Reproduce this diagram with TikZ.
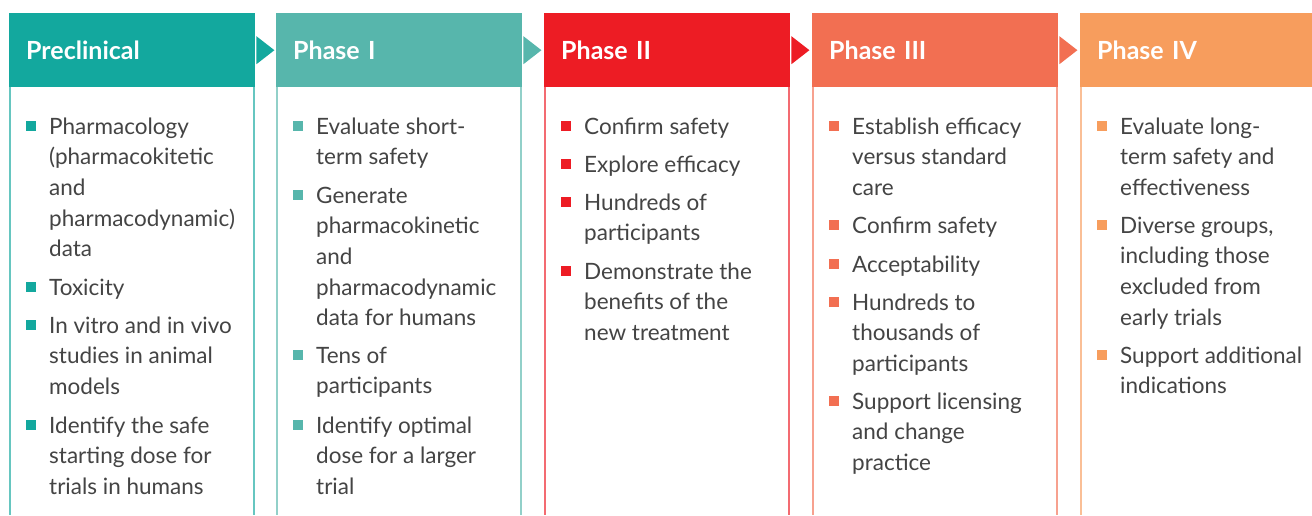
\documentclass[tikz,border=0pt]{standalone}
\usepackage{fontspec}
\setmainfont{Lato}
\usetikzlibrary{calc}
\definecolor{cA}{HTML}{13A89E}
\definecolor{cB}{HTML}{57B6AC}
\definecolor{cC}{HTML}{ED1C24}
\definecolor{cD}{HTML}{F26F52}
\definecolor{cE}{HTML}{F79D5D}
\definecolor{txtgray}{HTML}{444444}
\newcommand\fstrut{\rule{0pt}{22pt}}
\tikzset{
  hdr/.style={anchor=north west, minimum width=246pt, minimum height=74pt,
    text width=212pt, inner xsep=17pt, inner ysep=0pt, align=left,
    text height=18pt, text depth=0pt, text=white,
    font=\fontsize{25}{28}\selectfont\bfseries},
  bul/.style={fill=#1, minimum size=10pt, inner sep=0pt, draw=none},
  itm/.style={anchor=north west, inner sep=0pt, align=left, text=txtgray,
    font=\fontsize{22.5}{30.6}\selectfont},
  side/.style={line width=1.5pt, draw=#1},
}
\newcommand\hdrarrow[2]{\fill[#2] ($(#1.east)+(1,-14)$) -- ($(#1.east)+(19,0)$) -- ($(#1.east)+(1,14)$) -- cycle;}
% column: bullet + item text, args: name, colour, x0, baseline, text
\newcommand\colitem[5]{%
  \node[bul=#2] (#1b) at (#3+22,#4-7) {};
  \node[itm] (#1) at (#3+40,#4-21) {\fstrut#5};
}
\begin{document}
\begin{tikzpicture}[x=1pt,y=-1pt]
\useasboundingbox[fill=white] (0,0) rectangle (1312,515);
% side lines
\foreach \x/\c in {9/cA, 276/cB, 544/cC, 812/cD, 1080/cE}{
  \draw[side=\c!65] (\x+1,87) -- (\x+1,515);
  \draw[side=\c!65] (\x+245,87) -- (\x+245,515);
}
% headers
\node[hdr, fill=cA] (h1) at (9,13) {Preclinical};
\node[hdr, fill=cB] (h2) at (276,13) {Phase I};
\node[hdr, fill=cC] (h3) at (544,13) {Phase II};
\node[hdr, fill=cD] (h4) at (812,13) {Phase III};
\node[hdr, fill=cE, minimum width=250pt, text width=216pt] (h5) at (1080,13) {Phase IV};
\hdrarrow{h1}{cA}
\hdrarrow{h2}{cB}
\hdrarrow{h3}{cC}
\hdrarrow{h4}{cD}
% Preclinical
\colitem{a1}{cA}{9}{133}{Pharmacology\\(pharmacokitetic\\and\\pharmacodynamic)\\data}
\colitem{a2}{cA}{9}{294}{Toxicity}
\colitem{a3}{cA}{9}{332}{In vitro and in vivo\\studies in animal\\models}
\colitem{a4}{cA}{9}{432}{Identify the safe\\starting dose for\\trials in humans}
% Phase I
\colitem{b1}{cB}{276}{133}{Evaluate short-\\term safety}
\colitem{b2}{cB}{276}{202}{Generate\\pharmacokinetic\\and\\pharmacodynamic\\data for humans}
\colitem{b3}{cB}{276}{362}{Tens of\\participants}
\colitem{b4}{cB}{276}{432}{Identify optimal\\dose for a larger\\trial}
% Phase II
\colitem{c1}{cC}{544}{133}{Confirm safety}
\colitem{c2}{cC}{544}{171}{Explore efficacy}
\colitem{c3}{cC}{544}{209}{Hundreds of\\participants}
\colitem{c4}{cC}{544}{278}{Demonstrate the\\benefits of the\\new treatment}
% Phase III
\colitem{d1}{cD}{812}{133}{Establish efficacy\\versus standard\\care}
\colitem{d2}{cD}{812}{232}{Confirm safety}
\colitem{d3}{cD}{812}{271}{Acceptability}
\colitem{d4}{cD}{812}{309}{Hundreds to\\thousands of\\participants}
\colitem{d5}{cD}{812}{408}{Support licensing\\and change\\practice}
% Phase IV
\colitem{e1}{cE}{1080}{133}{Evaluate long-\\term safety and\\effectiveness}
\colitem{e2}{cE}{1080}{232}{Diverse groups,\\including those\\excluded from\\early trials}
\colitem{e3}{cE}{1080}{362}{Support additional\\indications}
\end{tikzpicture}
\end{document}
